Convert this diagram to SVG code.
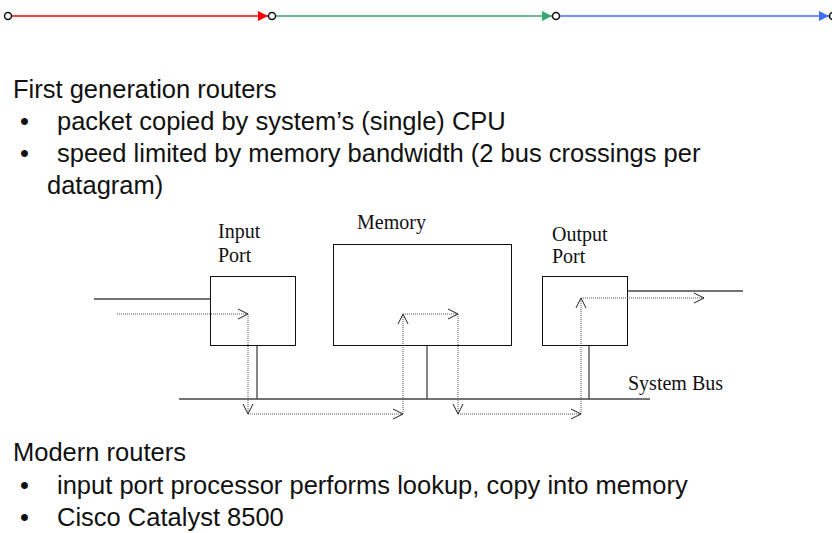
<svg xmlns="http://www.w3.org/2000/svg" width="832" height="533" viewBox="0 0 832 533">
<style>
.sans{font-family:"Liberation Sans",Arial,sans-serif;font-size:25.5px;fill:#111}
.serif{font-family:"Liberation Serif","Times New Roman",serif;font-size:20px;fill:#111}
.box{fill:#fff;stroke:#111;stroke-width:1}
.wire{stroke:#444;stroke-width:1.3;fill:none}
.dot{stroke:#555;stroke-width:1;stroke-dasharray:1 1;fill:none;marker-end:url(#chev)}
.node{fill:#fff;stroke:#111;stroke-width:1.5}
</style>
<defs>
<marker id="chev" viewBox="0 0 12 12" refX="10" refY="6" markerWidth="12" markerHeight="12" markerUnits="userSpaceOnUse" orient="auto">
<path d="M0,1 L10,6 L0,11" fill="none" stroke="#222" stroke-width="1"/>
</marker>
<marker id="triR" viewBox="0 0 10 10" refX="10" refY="5" markerWidth="10" markerHeight="10" markerUnits="userSpaceOnUse" orient="auto"><path d="M0,0 L10,5 L0,10 Z" fill="#ff0000"/></marker>
<marker id="triG" viewBox="0 0 10 10" refX="10" refY="5" markerWidth="10" markerHeight="10" markerUnits="userSpaceOnUse" orient="auto"><path d="M0,0 L10,5 L0,10 Z" fill="#3aa86b"/></marker>
<marker id="triB" viewBox="0 0 10 10" refX="10" refY="5" markerWidth="10" markerHeight="10" markerUnits="userSpaceOnUse" orient="auto"><path d="M0,0 L10,5 L0,10 Z" fill="#3f6fff"/></marker>
</defs>
<rect width="832" height="533" fill="#fff"/>

<g id="top-connectors">
<line x1="12" y1="16" x2="268" y2="16" stroke="#ff0000" stroke-width="1.5" marker-end="url(#triR)"/>
<line x1="276" y1="16" x2="552" y2="16" stroke="#3aa86b" stroke-width="1.5" marker-end="url(#triG)"/>
<line x1="560" y1="16" x2="829" y2="16" stroke="#3f6fff" stroke-width="1.5" marker-end="url(#triB)"/>
</g>
<g id="top-nodes">
<circle class="node" cx="8" cy="16" r="3.5"/>
<circle class="node" cx="272" cy="16" r="3.5"/>
<circle class="node" cx="556" cy="16" r="3.5"/>
<circle class="node" cx="833" cy="16" r="3.5"/>
</g>

<g id="text-top">
<text class="sans" x="13" y="98">First generation routers</text>
<text class="sans" x="20" y="130">•</text>
<text class="sans" x="57" y="130">packet copied by system’s (single) CPU</text>
<text class="sans" x="20" y="162">•</text>
<text class="sans" x="57" y="162">speed limited by memory bandwidth (2 bus crossings per</text>
<text class="sans" x="47" y="194">datagram)</text>
</g>

<g id="bus">
<line class="wire" x1="179" y1="399" x2="650" y2="399"/>
<line class="wire" x1="257" y1="345" x2="257" y2="399"/>
<line class="wire" x1="427" y1="345" x2="427" y2="399"/>
<line class="wire" x1="589" y1="345" x2="589" y2="399"/>
<text class="serif" x="628" y="390">System Bus</text>
</g>

<g id="input-port">
<line class="wire" x1="94" y1="299" x2="210" y2="299"/>
<rect class="box" x="210.5" y="276.5" width="85" height="69"/>
<text class="serif" x="218" y="238">Input</text>
<text class="serif" x="218" y="262">Port</text>
</g>

<g id="memory">
<rect class="box" x="333.5" y="244.5" width="178" height="101"/>
<text class="serif" x="357" y="229">Memory</text>
</g>

<g id="output-port">
<line class="wire" x1="627" y1="291" x2="743" y2="291"/>
<rect class="box" x="542.5" y="276.5" width="85" height="69"/>
<text class="serif" x="552" y="241">Output</text>
<text class="serif" x="552" y="263">Port</text>
</g>

<g id="packet-path">
<line class="dot" x1="117" y1="314" x2="248" y2="314"/>
<line class="dot" x1="248" y1="314" x2="248" y2="414"/>
<line class="dot" x1="248" y1="414" x2="403" y2="414"/>
<line class="dot" x1="403" y1="414" x2="403" y2="314"/>
<line class="dot" x1="403" y1="314" x2="458" y2="314"/>
<line class="dot" x1="458" y1="314" x2="458" y2="414"/>
<line class="dot" x1="458" y1="414" x2="581" y2="414"/>
<line class="dot" x1="581" y1="414" x2="581" y2="298"/>
<line class="dot" x1="581" y1="298" x2="704" y2="298"/>
</g>

<g id="text-bottom">
<text class="sans" x="13" y="461">Modern routers</text>
<text class="sans" x="20" y="494">•</text>
<text class="sans" x="57" y="494">input port processor performs lookup, copy into memory</text>
<text class="sans" x="20" y="526">•</text>
<text class="sans" x="57" y="526">Cisco Catalyst 8500</text>
</g>
</svg>
